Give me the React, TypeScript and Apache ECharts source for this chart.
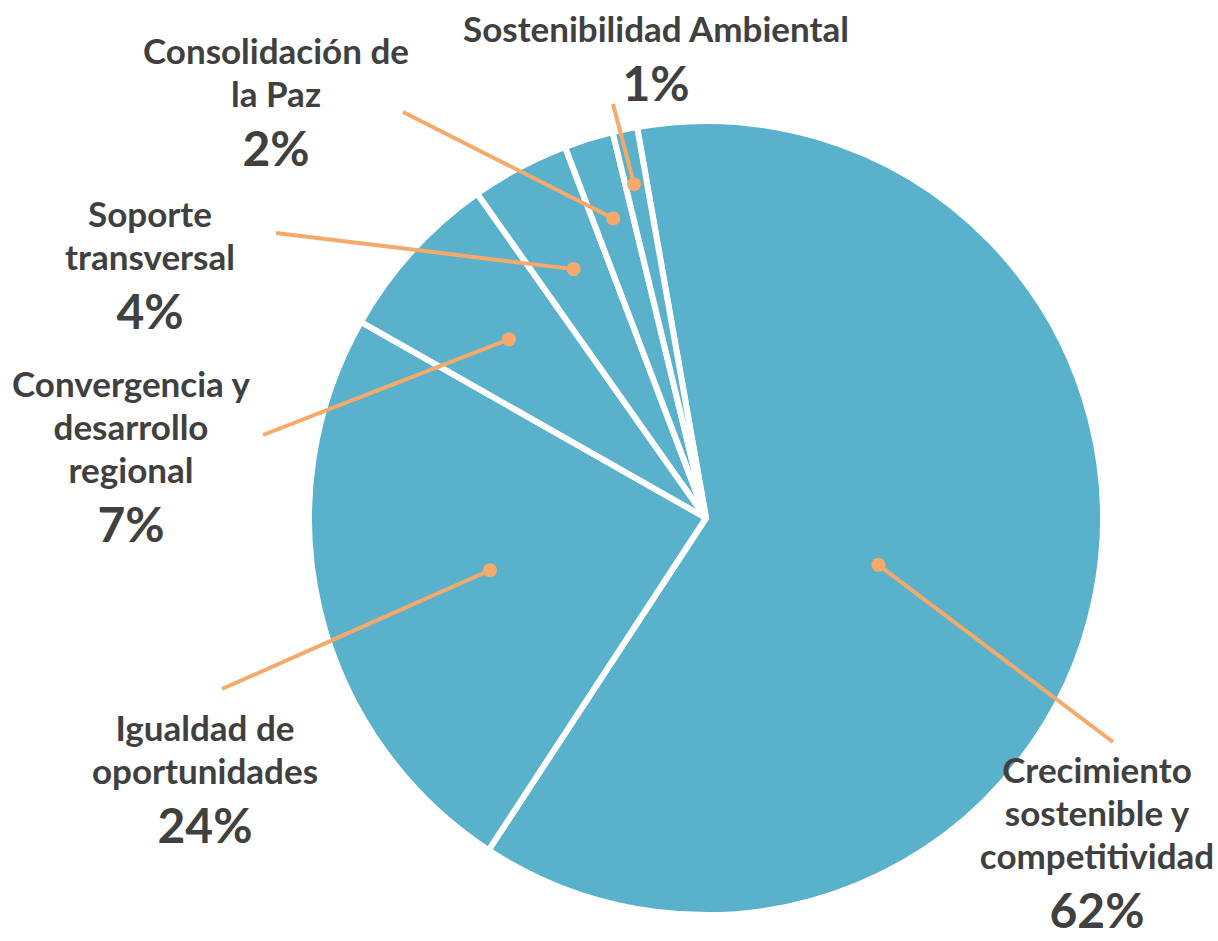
import React, { useEffect, useRef } from "react";
import * as echarts from "echarts";

// ---- data ----
const categories: string[] = [
  "Crecimiento\nsostenible y\ncompetitividad",
  "Igualdad de\noportunidades",
  "Convergencia y\ndesarrollo\nregional",
  "Soporte\ntransversal",
  "Consolidación de\nla Paz",
  "Sostenibilidad Ambiental",
];
const shares: number[] = [62, 24, 7, 4, 2, 1];

// ---- layout (not data) ----
const CENTER: [number, number] = [706, 518];
const RADIUS = 397;
const START_ANGLE = 100;
const anchorFrac = [0.45, 0.56, 0.67, 0.71, 0.79, 0.86];
const anchorShift = [1, 0, 0, 0, 0, -0.1]; // in share units, clockwise
const lineEnds: [number, number][] = [
  [1113, 742],
  [222, 689],
  [263, 435],
  [276, 233],
  [403, 112],
  [613, 104],
];
const labelCenters: [number, number][] = [
  [1097, 845],
  [205, 781],
  [131, 459],
  [150, 267],
  [276, 104],
  [656, 61],
];

const SLICE = "#59B1CB";
const ORANGE = "#F5A96B";
const TEXT = "#404040";
const FONT = "Lato, 'Open Sans', sans-serif";

export default function App() {
  const ref = useRef<HTMLDivElement>(null);
  useEffect(() => {
    if (!ref.current) return;
    const chart = echarts.init(ref.current, undefined, { renderer: "svg" });
    const total = shares.reduce((a, b) => a + b, 0);
    let cum = 0;
    const dots = shares.map((v, i) => {
      const mid = cum + v / 2 + anchorShift[i];
      cum += v;
      return [anchorFrac[i], mid];
    });
    const pieData = categories.map((c, i) => ({ name: c, value: shares[i] }));
    chart.setOption({
      animation: false,
      polar: { center: CENTER, radius: RADIUS },
      angleAxis: {
        type: "value",
        min: 0,
        max: total,
        startAngle: START_ANGLE,
        clockwise: true,
        show: false,
      },
      radiusAxis: { type: "value", min: 0, max: 1, show: false },
      series: [
        {
          type: "pie",
          center: CENTER,
          radius: RADIUS,
          startAngle: START_ANGLE,
          clockwise: true,
          silent: true,
          z: 2,
          itemStyle: { color: SLICE, borderColor: "#ffffff", borderWidth: 6 },
          data: pieData,
          label: { show: false },
          labelLine: { show: false },
        },
        {
          type: "pie",
          center: CENTER,
          radius: RADIUS,
          startAngle: START_ANGLE,
          clockwise: true,
          silent: true,
          avoidLabelOverlap: false,
          z: 4,
          itemStyle: { color: "rgba(0,0,0,0)", borderWidth: 0 },
          data: pieData,
          label: {
            show: true,
            position: "outside",
            formatter: (p: any) => `{n|${p.name}}\n{p|${p.value}%}`,
            rich: {
              n: {
                fontFamily: FONT,
                fontWeight: "bold",
                fontSize: 35,
                lineHeight: 43,
                color: TEXT,
                align: "center",
              },
              p: {
                fontFamily: FONT,
                fontWeight: "bold",
                fontSize: 48,
                lineHeight: 66,
                color: TEXT,
                align: "center",
              },
            },
          },
          labelLine: {
            show: true,
            length: 10,
            length2: 10,
            lineStyle: { color: ORANGE, width: 4, opacity: 1 },
          },
          labelLayout: (params: any) => {
            const i = params.dataIndex;
            const pts = params.labelLinePoints;
            const p0 = pts && pts[0] ? pts[0] : CENTER;
            const f = anchorFrac[i];
            const rot = (anchorShift[i] / total) * 2 * Math.PI; // clockwise on screen
            const vx = p0[0] - CENTER[0];
            const vy = p0[1] - CENTER[1];
            const rx = vx * Math.cos(rot) - vy * Math.sin(rot);
            const ry = vx * Math.sin(rot) + vy * Math.cos(rot);
            const sx = CENTER[0] + f * rx;
            const sy = CENTER[1] + f * ry;
            const e = lineEnds[i];
            return {
              x: labelCenters[i][0],
              y: labelCenters[i][1],
              align: "center",
              verticalAlign: "middle",
              labelLinePoints: [
                [sx, sy],
                [(sx + e[0]) / 2, (sy + e[1]) / 2],
                [e[0], e[1]],
              ],
            };
          },
        },
        {
          type: "scatter",
          coordinateSystem: "polar",
          silent: true,
          z: 6,
          symbol: "circle",
          symbolSize: 14,
          itemStyle: { color: ORANGE, opacity: 1 },
          data: dots,
        },
      ],
    });
    return () => chart.dispose();
  }, []);
  return (
    <div
      ref={ref}
      style={{ position: "absolute", left: 0, top: 0, width: 1218, height: 941 }}
    />
  );
}
